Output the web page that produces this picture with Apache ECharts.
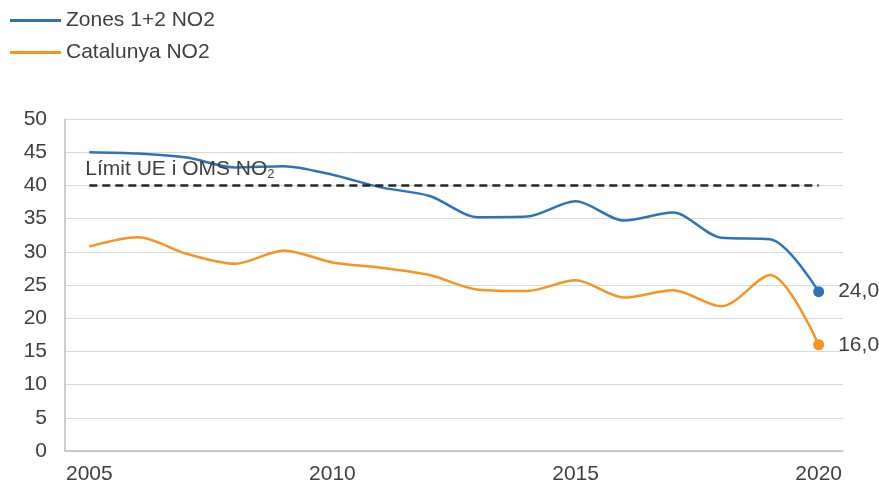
<!DOCTYPE html>
<html>
<head>
<meta charset="utf-8">
<script src="https://cdn.jsdelivr.net/npm/echarts/dist/echarts.min.js"></script>
<style>
html,body{margin:0;padding:0;background:#fff;}
#chart{width:879px;height:485px;}
</style>
</head>
<body>
<div id="chart"></div>
<script>
var years = ['2005','2006','2007','2008','2009','2010','2011','2012','2013','2014','2015','2016','2017','2018','2019','2020'];
var zonesNO2 = [45.0, 44.8, 44.2, 42.7, 42.9, 41.6, 39.7, 38.4, 35.2, 35.3, 37.6, 34.7, 35.9, 32.1, 31.9, 24.0];
var catalunyaNO2 = [30.8, 32.2, 29.7, 28.2, 30.2, 28.4, 27.6, 26.5, 24.3, 24.1, 25.7, 23.1, 24.2, 21.8, 26.5, 16.0];
var limitValue = 40;
var yTicks = {min: 0, max: 50, interval: 5};

var textColor = '#404040';
var fontFamily = '"Liberation Sans", Arial, sans-serif';
var fs = 21;

function withEndLabel(arr, color) {
  return arr.map(function (v, i) {
    if (i === arr.length - 1) {
      return {
        value: v,
        symbol: 'circle',
        symbolSize: 11,
        itemStyle: {color: color},
        label: {
          show: true,
          position: 'right',
          distance: 14,
          color: textColor,
          fontSize: fs,
          fontFamily: fontFamily,
          formatter: function (p) { return p.value.toFixed(1).replace('.', ','); }
        }
      };
    }
    return {value: v, symbol: 'none', label: {show: false}};
  });
}

var blue = '#2e74b5';
var orange = '#f7941d';

var chart = echarts.init(document.getElementById('chart'));
chart.setOption({
  animation: false,
  textStyle: {fontFamily: fontFamily},
  legend: {
    orient: 'vertical',
    left: 10,
    top: 10,
    padding: 0,
    icon: 'rect',
    itemWidth: 51,
    itemHeight: 3,
    itemGap: 11,
    textStyle: {color: textColor, fontSize: fs, fontFamily: fontFamily},
    data: ['Zones 1+2 NO2', 'Catalunya NO2']
  },
  grid: {left: 65, right: 36, top: 119, bottom: 33, containLabel: false},
  xAxis: {
    type: 'category',
    data: years,
    boundaryGap: true,
    axisLine: {show: true, lineStyle: {color: '#bfbfbf', width: 1.5}},
    axisTick: {show: false},
    axisLabel: {interval: 4, color: textColor, fontSize: fs, margin: 13, fontFamily: fontFamily},
    splitLine: {show: false}
  },
  yAxis: {
    type: 'value',
    min: yTicks.min,
    max: yTicks.max,
    interval: yTicks.interval,
    axisLine: {show: true, lineStyle: {color: '#bfbfbf', width: 1.5}},
    axisTick: {show: false},
    axisLabel: {color: textColor, fontSize: fs, margin: 18, fontFamily: fontFamily},
    splitLine: {lineStyle: {color: '#d9d9d9', width: 1}}
  },
  series: [
    {
      name: 'Zones 1+2 NO2',
      type: 'line',
      data: withEndLabel(zonesNO2, blue),
      smooth: 0.3,
      showSymbol: true,
      symbol: 'circle',
      symbolSize: 11,
      color: blue,
      lineStyle: {color: blue, width: 2.5},
      z: 3,
      markLine: {
        silent: true,
        symbol: ['none', 'none'],
        lineStyle: {color: '#262626', width: 2.5, type: [8, 5]},
        label: {
          show: true,
          position: 'insideStartTop',
          distance: 4,
          offset: [-8, 0],
          formatter: '{a|Límit UE i OMS NO}{b|2}',
          rich: {
            a: {fontSize: fs, color: textColor, fontFamily: fontFamily, lineHeight: 24},
            b: {fontSize: 13, color: textColor, fontFamily: fontFamily, lineHeight: 13, verticalAlign: 'bottom'}
          }
        },
        data: [[
          {coord: [years[0], limitValue]},
          {coord: [years[years.length - 1], limitValue]}
        ]]
      }
    },
    {
      name: 'Catalunya NO2',
      type: 'line',
      data: withEndLabel(catalunyaNO2, orange),
      smooth: 0.3,
      showSymbol: true,
      symbol: 'circle',
      symbolSize: 11,
      color: orange,
      lineStyle: {color: orange, width: 2.5},
      z: 3
    }
  ]
});
</script>
</body>
</html>
